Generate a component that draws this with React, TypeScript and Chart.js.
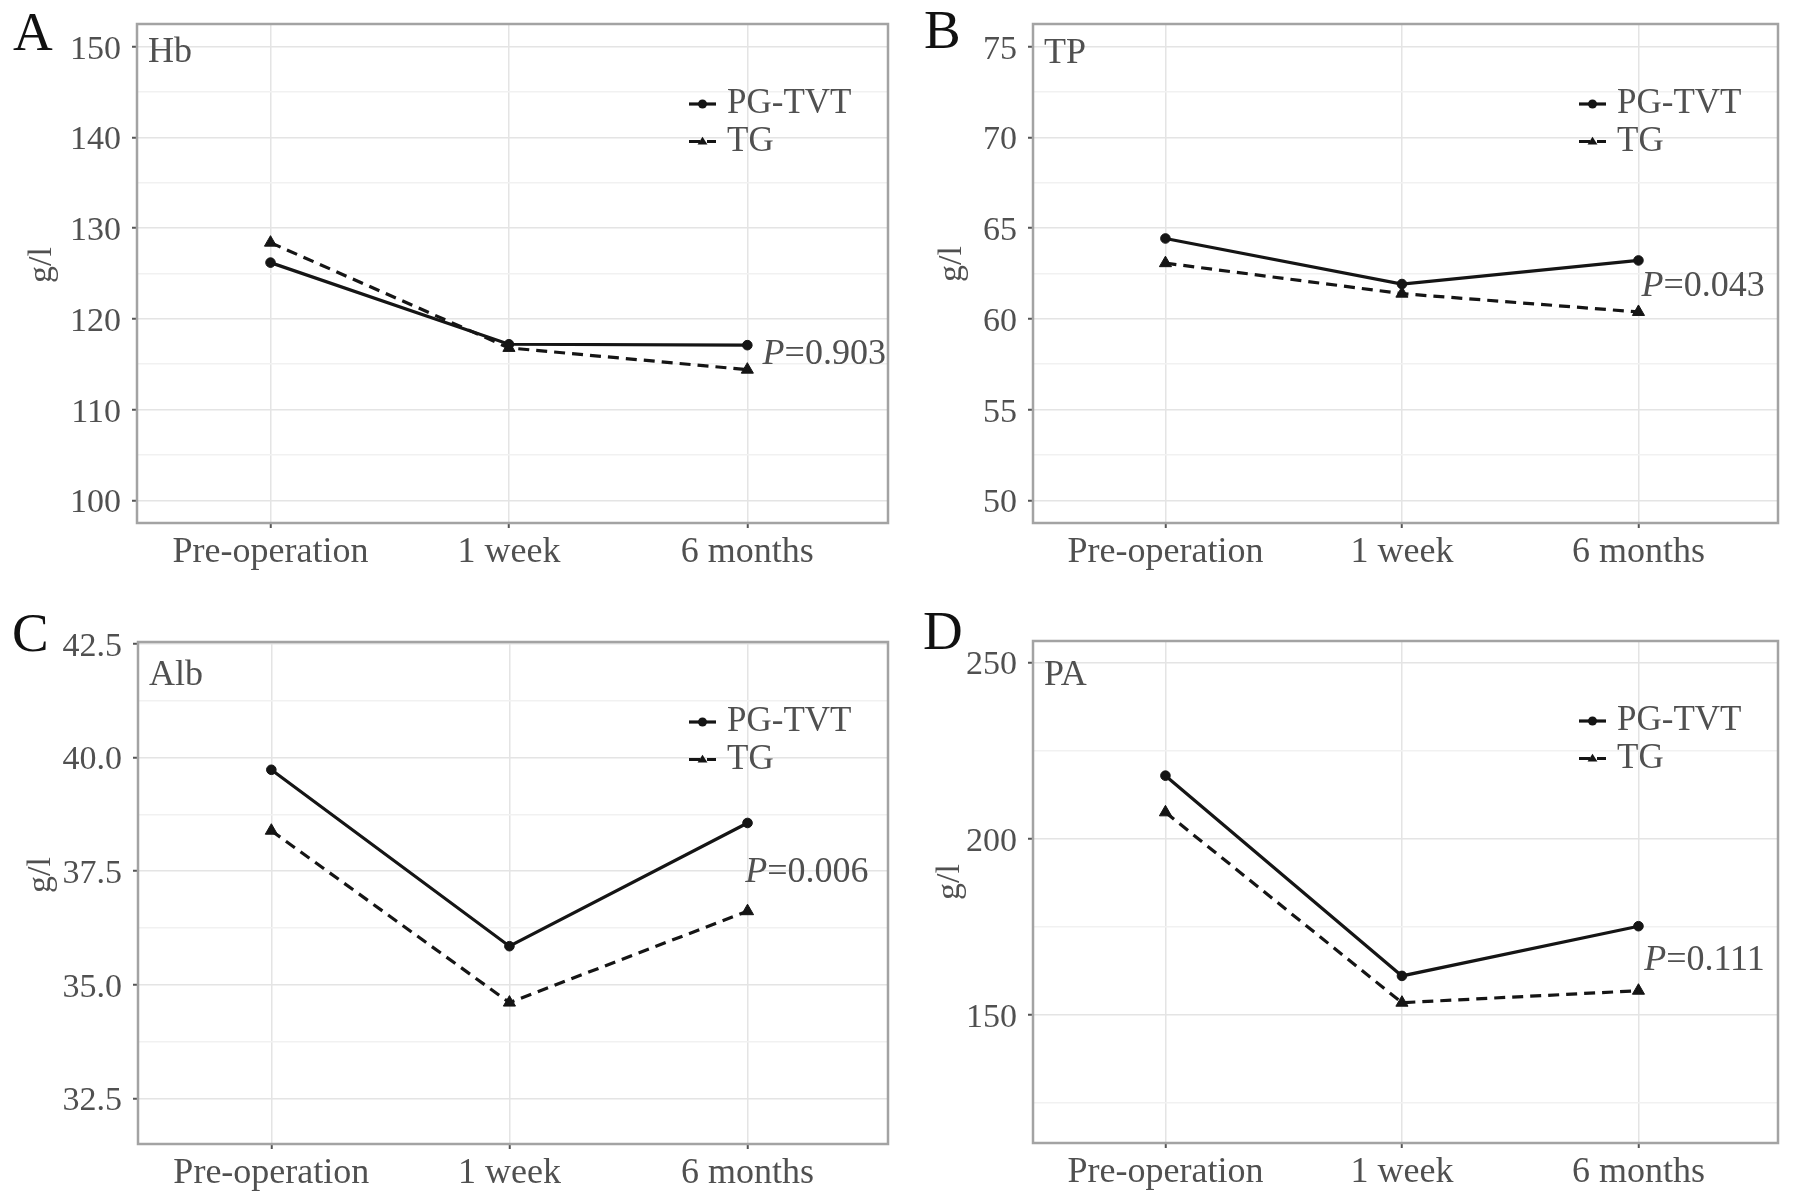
import React, { useEffect, useRef } from "react";
import { Chart, registerables } from "chart.js";

Chart.register(...registerables);

// ---------------- data ----------------
const categories = ["Pre-operation", "1 week", "6 months"];
const seriesNames = ["PG-TVT", "TG"];

const hbPGTVT = [126.2, 117.2, 117.1];
const hbTG = [128.4, 116.8, 114.4];
const tpPGTVT = [64.43, 61.92, 63.22];
const tpTG = [63.07, 61.39, 60.38];
const albPGTVT = [39.73, 35.85, 38.56];
const albTG = [38.39, 34.61, 36.62];
const paPGTVT = [217.9, 161.1, 175.2];
const paTG = [207.5, 153.5, 156.9];

const hbTicks = [100, 110, 120, 130, 140, 150];
const hbMinor = [105, 115, 125, 135, 145];
const tpTicks = [50, 55, 60, 65, 70, 75];
const tpMinor = [52.5, 57.5, 62.5, 67.5, 72.5];
const albTicks = [32.5, 35.0, 37.5, 40.0, 42.5];
const albMinor = [33.75, 36.25, 38.75, 41.25];
const paTicks = [150, 200, 250];
const paMinor = [125, 175, 225];

const panelLetters = ["A", "B", "C", "D"];
const panelNames = ["Hb", "TP", "Alb", "PA"];
const yTitle = "g/l";
const pValueTexts = ["0.903", "0.043", "0.006", "0.111"];
const pValueX = [2.064, 2.013, 1.99, 2.024];
const pValueY = [116.05, 61.77, 37.47, 165.4];

// ---------------- styling / layout ----------------
const FONT = '"Liberation Serif", "Times New Roman", serif';
const TEXT = "#505050";
const LINE = "#151515";
const MAJOR_GRID = "#e4e4e4";
const MINOR_GRID = "#f1f1f1";
const FRAME = "#a3a3a3";
const X_AXIS_H = 50;

type Panel = {
  idx: number;
  pg: number[];
  tg: number[];
  ticks: number[];
  minor: number[];
  yMin: number;
  yMax: number;
  decimals: number;
  cellX: number;
  cellY: number;
  cellW: number;
  cellH: number;
  left: number;
  right: number;
  top: number;
  bottom: number;
  titleX: number;
  titleY: number;
  letterX: number;
  letterBase: number;
  nameBase: number;
};

const panels: Panel[] = [
  {
    idx: 0, pg: hbPGTVT, tg: hbTG, ticks: hbTicks, minor: hbMinor, yMin: 97.5, yMax: 152.5, decimals: 0,
    cellX: 0, cellY: 0, cellW: 897, cellH: 600,
    left: 137, right: 888, top: 24, bottom: 523, titleX: 42, titleY: 265, letterX: 13, letterBase: 50, nameBase: 38,
  },
  {
    idx: 1, pg: tpPGTVT, tg: tpTG, ticks: tpTicks, minor: tpMinor, yMin: 48.75, yMax: 76.25, decimals: 0,
    cellX: 897, cellY: 0, cellW: 898, cellH: 600,
    left: 136, right: 881, top: 24, bottom: 523, titleX: 55, titleY: 264, letterX: 27, letterBase: 48, nameBase: 39,
  },
  {
    idx: 2, pg: albPGTVT, tg: albTG, ticks: albTicks, minor: albMinor, yMin: 31.5, yMax: 42.54, decimals: 1,
    cellX: 0, cellY: 600, cellW: 897, cellH: 601,
    left: 138, right: 888, top: 42, bottom: 544, titleX: 41, titleY: 275, letterX: 12, letterBase: 51, nameBase: 43,
  },
  {
    idx: 3, pg: paPGTVT, tg: paTG, ticks: paTicks, minor: paMinor, yMin: 113.7, yMax: 256.1, decimals: 0,
    cellX: 897, cellY: 600, cellW: 898, cellH: 601,
    left: 136, right: 881, top: 41, bottom: 543, titleX: 53, titleY: 282, letterX: 26, letterBase: 49, nameBase: 44,
  },
];

function drawMarker(ctx: CanvasRenderingContext2D, style: string, x: number, y: number, r: number) {
  ctx.beginPath();
  if (style === "triangle") {
    const h = r * 1.7;
    ctx.moveTo(x, y - h * 0.62);
    ctx.lineTo(x + r * 1.1, y + h * 0.38);
    ctx.lineTo(x - r * 1.1, y + h * 0.38);
    ctx.closePath();
  } else {
    ctx.arc(x, y, r, 0, Math.PI * 2);
  }
  ctx.fill();
}

function makeDecor(p: Panel) {
  return {
    id: "decor" + p.idx,
    afterDatasetsDraw(chart: any) {
      const { ctx, chartArea } = chart;
      const { left, right, top, bottom } = chartArea;
      ctx.save();
      // panel frame
      ctx.strokeStyle = FRAME;
      ctx.lineWidth = 2.5;
      ctx.strokeRect(left, top, right - left, bottom - top);

      // panel letter
      ctx.fillStyle = "#111";
      ctx.font = `55px ${FONT}`;
      ctx.textAlign = "left";
      ctx.textBaseline = "alphabetic";
      ctx.fillText(panelLetters[p.idx], p.letterX, p.letterBase);

      // measure name
      ctx.fillStyle = TEXT;
      ctx.font = `36px ${FONT}`;
      ctx.fillText(panelNames[p.idx], left + 11, top + p.nameBase);

      // y axis title
      ctx.save();
      ctx.translate(p.titleX, p.titleY);
      ctx.rotate(-Math.PI / 2);
      ctx.textAlign = "center";
      ctx.textBaseline = "middle";
      ctx.font = `34px ${FONT}`;
      ctx.fillStyle = TEXT;
      ctx.fillText(yTitle, 0, 0);
      ctx.restore();

      // legend
      chart.data.datasets.forEach((ds: any, i: number) => {
        const cy = top + 80 + i * 37.5;
        const x0 = right - 199;
        const x1 = right - 172;
        ctx.strokeStyle = ds.borderColor;
        ctx.lineWidth = ds.borderWidth;
        ctx.setLineDash(ds.borderDash || []);
        ctx.beginPath();
        ctx.moveTo(x0, cy);
        ctx.lineTo(x1, cy);
        ctx.stroke();
        ctx.setLineDash([]);
        ctx.fillStyle = ds.pointBackgroundColor;
        drawMarker(ctx, ds.pointStyle, (x0 + x1) / 2, cy, 4.5);
        ctx.fillStyle = TEXT;
        ctx.font = `35px ${FONT}`;
        ctx.textAlign = "left";
        ctx.textBaseline = "middle";
        ctx.fillText(ds.label, right - 161, cy);
      });

      // P value annotation
      const px = chart.scales.x.getPixelForValue(pValueX[p.idx]);
      const py = chart.scales.y.getPixelForValue(pValueY[p.idx]);
      ctx.fillStyle = TEXT;
      ctx.textAlign = "left";
      ctx.textBaseline = "middle";
      ctx.font = `italic 36px ${FONT}`;
      ctx.fillText("P", px, py);
      const w = ctx.measureText("P").width;
      ctx.font = `36px ${FONT}`;
      ctx.fillText("=" + pValueTexts[p.idx], px + w, py);
      ctx.restore();
    },
  };
}

function buildChart(canvas: HTMLCanvasElement, p: Panel) {
  const majorSet = new Set(p.ticks);
  const allTicks = [...p.ticks, ...p.minor].sort((a, b) => a - b);
  return new Chart(canvas, {
    type: "line",
    data: {
      datasets: [
        {
          label: seriesNames[0],
          data: p.pg.map((y, i) => ({ x: i, y })),
          borderColor: LINE,
          backgroundColor: LINE,
          pointBackgroundColor: LINE,
          pointBorderColor: LINE,
          borderWidth: 3.2,
          pointStyle: "circle",
          pointRadius: 4.8,
          pointBorderWidth: 1,
          tension: 0,
        },
        {
          label: seriesNames[1],
          data: p.tg.map((y, i) => ({ x: i, y })),
          borderColor: LINE,
          backgroundColor: LINE,
          pointBackgroundColor: LINE,
          pointBorderColor: LINE,
          borderWidth: 3.2,
          borderDash: [11, 7],
          pointStyle: "triangle",
          pointRadius: 7,
          pointBorderWidth: 1,
          tension: 0,
        },
      ],
    } as any,
    options: {
      responsive: false,
      animation: false,
      devicePixelRatio: 1,
      layout: {
        padding: {
          left: 0,
          top: p.top,
          right: p.cellW - p.right,
          bottom: p.cellH - p.bottom - X_AXIS_H,
        },
      },
      plugins: {
        legend: { display: false },
        tooltip: { enabled: false },
      },
      scales: {
        x: {
          type: "linear",
          min: -0.56,
          max: 2.59,
          afterBuildTicks: (s: any) => {
            s.ticks = categories.map((_, i) => ({ value: i }));
          },
          afterFit: (s: any) => {
            s.height = X_AXIS_H;
            s.paddingLeft = 0;
            s.paddingRight = 0;
            s.paddingTop = 0;
            s.paddingBottom = 0;
          },
          ticks: {
            callback: (v: any) => categories[Math.round(Number(v))] ?? "",
            font: { family: FONT, size: 36 },
            color: TEXT,
            padding: 3,
            maxRotation: 0,
            autoSkip: false,
          },
          grid: {
            color: MAJOR_GRID,
            lineWidth: 1.5,
            tickColor: "#555",
            tickLength: 5,
            tickWidth: 2,
          },
          border: { display: false },
        },
        y: {
          type: "linear",
          min: p.yMin,
          max: p.yMax,
          afterBuildTicks: (s: any) => {
            s.ticks = allTicks.map((v) => ({ value: v }));
          },
          afterFit: (s: any) => {
            s.width = p.left;
            s.paddingLeft = 0;
            s.paddingRight = 0;
            s.paddingTop = 0;
            s.paddingBottom = 0;
          },
          ticks: {
            callback: (v: any) => (majorSet.has(Number(v)) ? Number(v).toFixed(p.decimals) : ""),
            font: { family: FONT, size: 34 },
            color: TEXT,
            padding: 11,
            labelOffset: 3,
            autoSkip: false,
          },
          grid: {
            color: (c: any) => (c.tick && majorSet.has(c.tick.value) ? MAJOR_GRID : MINOR_GRID),
            lineWidth: 1.5,
            tickColor: (c: any) => (c.tick && majorSet.has(c.tick.value) ? "#555" : "rgba(0,0,0,0)"),
            tickLength: 5,
            tickWidth: 2,
          },
          border: { display: false },
          title: { display: false },
        },
      },
    } as any,
    plugins: [makeDecor(p)],
  });
}

function PanelChart({ p }: { p: Panel }) {
  const ref = useRef<HTMLCanvasElement | null>(null);
  useEffect(() => {
    if (!ref.current) return;
    const chart = buildChart(ref.current, p);
    return () => chart.destroy();
  }, [p]);
  return (
    <div
      style={{
        position: "absolute",
        left: p.cellX,
        top: p.cellY,
        width: p.cellW,
        height: p.cellH,
      }}
    >
      <canvas
        ref={ref}
        width={p.cellW}
        height={p.cellH}
        style={{ display: "block", width: p.cellW, height: p.cellH }}
      />
    </div>
  );
}

export default function App() {
  return (
    <div
      style={{
        position: "absolute",
        left: 0,
        top: 0,
        width: 1795,
        height: 1201,
        background: "#ffffff",
        overflow: "hidden",
      }}
    >
      {panels.map((p) => (
        <PanelChart key={p.idx} p={p} />
      ))}
    </div>
  );
}
